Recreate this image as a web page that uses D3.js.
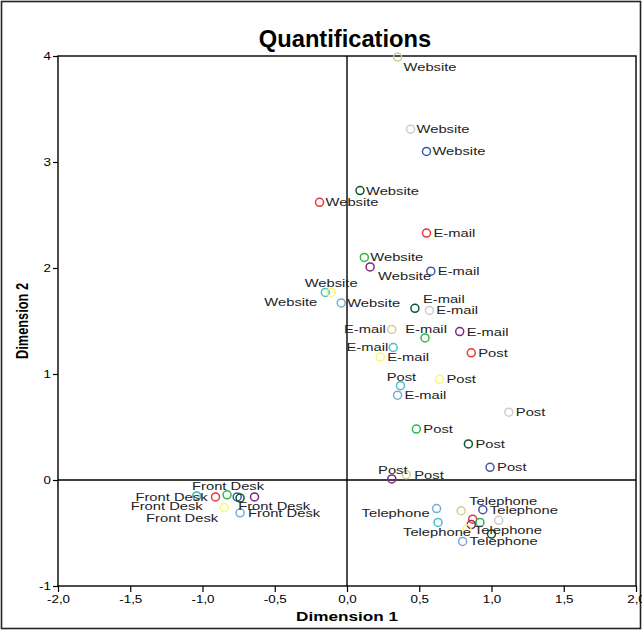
<!DOCTYPE html>
<html>
<head>
<meta charset="utf-8">
<script src="https://cdn.jsdelivr.net/npm/d3@7"></script>
<style>
  body { margin: 0; background: #fff; }
  svg { display: block; }
  text { font-family: "Liberation Sans", Arial, Helvetica, sans-serif; }
</style>
</head>
<body>
<svg id="chart" width="642" height="630"></svg>
<script>
// ---- data -------------------------------------------------------------
const categories = ["Website", "E-mail", "Post", "Front Desk", "Telephone"];

// one colour per quantified variable
const seriesColors = ["#3E58AC", "#2EB848", "#D3CE97", "#7C287D", "#FBF873",
                      "#EF3338", "#48C2C5", "#CCCCCC", "#7AAAD5", "#0A562C"];

// category points: variable index, Dimension 1, Dimension 2
const websiteSeries = [2, 7, 0, 9, 5, 1, 3, 6, 4, 8];
const websiteDim1   = [0.35, 0.44, 0.55, 0.09, -0.19, 0.12, 0.16, -0.15, -0.11, -0.04];
const websiteDim2   = [3.99, 3.31, 3.10, 2.73, 2.62, 2.10, 2.01, 1.77, 1.77, 1.67];

const emailSeries = [5, 0, 9, 7, 2, 1, 3, 6, 4, 8];
const emailDim1   = [0.55, 0.58, 0.47, 0.57, 0.31, 0.54, 0.78, 0.32, 0.23, 0.35];
const emailDim2   = [2.33, 1.97, 1.62, 1.60, 1.42, 1.34, 1.40, 1.25, 1.16, 0.80];

const postSeries = [5, 6, 4, 7, 1, 9, 0, 3, 2];
const postDim1   = [0.86, 0.37, 0.64, 1.12, 0.48, 0.84, 0.99, 0.31, 0.41];
const postDim2   = [1.20, 0.89, 0.95, 0.64, 0.48, 0.34, 0.12, 0.01, 0.05];

const frontDeskSeries = [2, 7, 6, 5, 1, 0, 9, 3, 4, 8];
const frontDeskDim1   = [-1.04, -1.04, -1.04, -0.91, -0.83, -0.76, -0.74, -0.64, -0.85, -0.74];
const frontDeskDim2   = [-0.15, -0.15, -0.15, -0.16, -0.14, -0.16, -0.17, -0.16, -0.26, -0.31];

const telephoneSeries = [8, 2, 0, 6, 5, 1, 3, 7, 4, 9, 8];
const telephoneDim1   = [0.62, 0.79, 0.94, 0.63, 0.87, 0.92, 0.86, 1.05, 0.83, 1.00, 0.80];
const telephoneDim2   = [-0.27, -0.29, -0.28, -0.40, -0.37, -0.40, -0.42, -0.38, -0.46, -0.51, -0.58];

const xTicks = [-2, -1.5, -1, -0.5, 0, 0.5, 1, 1.5, 2];
const yTicks = [-1, 0, 1, 2, 3, 4];

// ---- label placement (anchor, dx, dy from the marker centre; null = unlabeled)
const websiteLabelPos = [["start", 6, 10], ["start", 6, 0], ["start", 6, 0], ["start", 6, 0],
  ["start", 6, 0], ["start", 6, 0], ["start", 8, 9], ["end", -8, 10], ["middle", 0, -9], ["start", 6, 0]];
const emailLabelPos = [["start", 7, 0], ["start", 7, 0], ["start", 8, -9], ["start", 7, 0],
  ["end", -6, 0], ["middle", 1, -9], ["start", 7, 0], ["end", -5, 0], ["start", 7, 0], ["start", 7, 0]];
const postLabelPos = [["start", 7, 0], ["middle", 1, -9], ["start", 7, 0], ["start", 7, 0],
  ["start", 7, 0], ["start", 7, 0], ["start", 7, 0], ["middle", 1, -9], ["start", 8, 0]];
const frontDeskLabelPos = [["end", 6, 10], null, null, ["end", -8, 0], ["middle", 1, -9],
  ["start", 1, 9.5], null, null, ["end", -6, 10], ["start", 8, 0]];
const telephoneLabelPos = [["end", -7, 4], ["start", 8, -10], ["start", 7, 0], ["middle", -1, 9.5],
  null, null, null, null, ["start", 7, 1], null, ["start", 7, 0]];

// ---- layout ----------------------------------------------------------
const W = 642, H = 630;
const plot = { left: 58, right: 636, top: 56, bottom: 586 };
const stretch = 1.34;   // horizontal text stretch of this rendering

const svg = d3.select("#chart");

const x = d3.scaleLinear().domain([-2, 2]).range([plot.left, plot.right]);
const y = d3.scaleLinear().domain([-1, 4]).range([plot.bottom, plot.top]);

const locale = d3.formatLocale({ decimal: ",", thousands: ".", grouping: [3], currency: ["", ""], minus: "-" });
const fmtX = locale.format(".1f");
const fmtY = locale.format("d");

// outer border
svg.append("rect")
  .attr("x", 1.5).attr("y", 1.5).attr("width", W - 3).attr("height", H - 3)
  .attr("fill", "none").attr("stroke", "#222").attr("stroke-width", 1.6);

// title
svg.append("text")
  .attr("transform", `translate(345,47) scale(1.03,1)`)
  .attr("text-anchor", "middle")
  .attr("font-size", 23).attr("font-weight", "bold").attr("fill", "#000")
  .text("Quantifications");

// axes
const gx = svg.append("g").attr("transform", `translate(0,${plot.bottom})`)
  .call(d3.axisBottom(x).tickValues(xTicks).tickFormat(fmtX).tickSize(6).tickPadding(4));
const gy = svg.append("g").attr("transform", `translate(${plot.left},0)`)
  .call(d3.axisLeft(y).tickValues(yTicks).tickFormat(fmtY).tickSize(5).tickPadding(3));
[gx, gy].forEach(g => {
  g.select(".domain").remove();
  g.selectAll(".tick line").attr("stroke", "#000").attr("stroke-width", 1.2);
  g.selectAll(".tick text").attr("font-size", 10).attr("fill", "#000")
    .attr("font-family", '"Liberation Sans", Arial, sans-serif');
});
gx.selectAll(".tick text").attr("transform", `scale(${stretch},1)`);
gy.selectAll(".tick text").attr("x", -7 / stretch).attr("transform", `scale(${stretch},1)`);

// frame and zero reference lines
svg.append("rect")
  .attr("x", plot.left).attr("y", plot.top)
  .attr("width", plot.right - plot.left).attr("height", plot.bottom - plot.top)
  .attr("fill", "none").attr("stroke", "#000").attr("stroke-width", 1.4);
svg.append("line")
  .attr("x1", x(0)).attr("x2", x(0)).attr("y1", plot.top).attr("y2", plot.bottom)
  .attr("stroke", "#000").attr("stroke-width", 1.4);
svg.append("line")
  .attr("x1", plot.left).attr("x2", plot.right).attr("y1", y(0)).attr("y2", y(0))
  .attr("stroke", "#000").attr("stroke-width", 1.4);

// axis titles
svg.append("text")
  .attr("transform", `translate(347,621) scale(${stretch},1)`)
  .attr("text-anchor", "middle").attr("font-size", 12.8).attr("font-weight", "bold")
  .text("Dimension 1");
svg.append("text")
  .attr("transform", `translate(22,321) scale(${stretch},1) rotate(-90)`)
  .attr("text-anchor", "middle").attr("dy", "0.35em")
  .attr("font-size", 12.8).attr("font-weight", "bold")
  .text("Dimension 2");

// ---- points -------------------------------------------------------------
const groups = [
  [websiteSeries, websiteDim1, websiteDim2, websiteLabelPos],
  [emailSeries, emailDim1, emailDim2, emailLabelPos],
  [postSeries, postDim1, postDim2, postLabelPos],
  [frontDeskSeries, frontDeskDim1, frontDeskDim2, frontDeskLabelPos],
  [telephoneSeries, telephoneDim1, telephoneDim2, telephoneLabelPos]
];
const points = [];
groups.forEach(([ser, d1, d2, lab], ci) => {
  ser.forEach((s, i) => points.push({
    category: categories[ci], series: s, d1: d1[i], d2: d2[i], label: lab[i]
  }));
});

svg.append("g").selectAll("circle").data(points).join("circle")
  .attr("cx", d => x(d.d1)).attr("cy", d => y(d.d2)).attr("r", 4)
  .attr("fill", "none").attr("stroke", d => seriesColors[d.series]).attr("stroke-width", 1.5);

svg.append("g").selectAll("text").data(points.filter(d => d.label)).join("text")
  .attr("transform", d => `translate(${x(d.d1) + d.label[1]},${y(d.d2) + d.label[2]}) scale(${stretch},1)`)
  .attr("text-anchor", d => d.label[0])
  .attr("dy", "0.36em")
  .attr("font-size", 11).attr("fill", "#222")
  .text(d => d.category);
</script>
</body>
</html>
